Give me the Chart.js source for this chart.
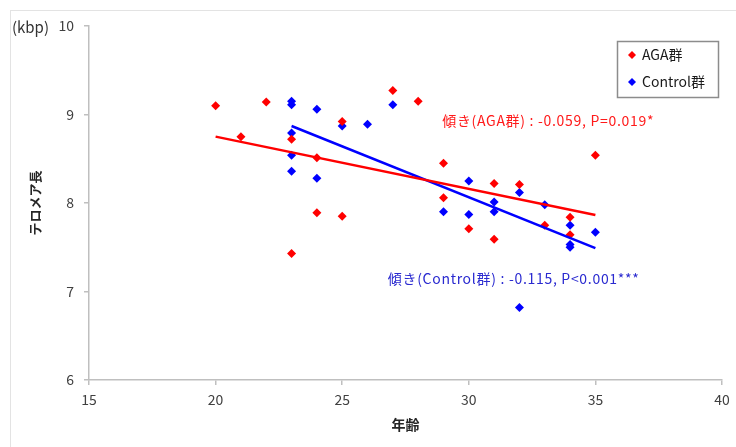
<!DOCTYPE html>
<html>
<head>
<meta charset="utf-8">
<script src="https://cdn.jsdelivr.net/npm/chart.js@4"></script>
<style>
  body { margin: 0; background: #fff; }
  #wrap { position: relative; width: 736px; height: 447px; overflow: hidden; }
  #frame { position: absolute; left: 10px; top: 10px; width: 800px; height: 500px; border: 1px solid #e3e3e3; }
  canvas { position: absolute; left: 0; top: 0; }
</style>
</head>
<body>
<div id="wrap">
  <div id="frame"></div>
  <canvas id="telomereChart" width="736" height="447"></canvas>
</div>
<script>
const agaAge = [20, 21, 22, 23, 23, 24, 24, 25, 25, 27, 28, 29, 29, 30, 31, 31, 32, 33, 34, 34, 35];
const agaTelomere = [9.10, 8.75, 9.14, 8.72, 7.43, 8.51, 7.89, 8.92, 7.85, 9.27, 9.15, 8.45, 8.06, 7.71, 8.22, 7.59, 8.21, 7.75, 7.84, 7.64, 8.54];

const controlAge = [23, 23, 23, 23, 23, 24, 24, 25, 26, 27, 29, 30, 30, 31, 31, 32, 32, 33, 34, 34, 34, 35];
const controlTelomere = [9.15, 9.11, 8.79, 8.54, 8.36, 9.06, 8.28, 8.87, 8.89, 9.11, 7.90, 8.25, 7.87, 8.01, 7.90, 8.12, 6.82, 7.98, 7.75, 7.53, 7.50, 7.67];

// trend lines (slope from the annotations)
const agaFit = { slope: -0.059, intercept: 9.93, from: 20, to: 35 };
const controlFit = { slope: -0.115, intercept: 11.515, from: 23, to: 35 };

const xTicks = [15, 20, 25, 30, 35, 40];
const yTicks = [6, 7, 8, 9, 10];

const seriesNames = ["AGA群", "Control群"];
const agaNote = "傾き(AGA群) : -0.059, P=0.019*";
const controlNote = "傾き(Control群) : -0.115, P<0.001***";

const RED = "#ff0000";
const BLUE = "#0000ff";
const FONT = "'Noto Sans CJK JP', 'Noto Sans', sans-serif";

const toPoints = (xs, ys) => xs.map((x, i) => ({ x: x, y: ys[i] }));
const fitPoints = f => [f.from, f.to].map(x => ({ x: x, y: f.intercept + f.slope * x }));

function diamond(ctx, x, y, r, color) {
  ctx.beginPath();
  ctx.moveTo(x, y - r);
  ctx.lineTo(x + r, y);
  ctx.lineTo(x, y + r);
  ctx.lineTo(x - r, y);
  ctx.closePath();
  ctx.fillStyle = color;
  ctx.fill();
}

const extras = {
  id: "extras",
  afterDraw(chart) {
    const ctx = chart.ctx;
    const xs = chart.scales.x;
    const ys = chart.scales.y;
    ctx.save();

    // unit label
    ctx.font = "15px " + FONT;
    ctx.fillStyle = "#333";
    ctx.textAlign = "left";
    ctx.textBaseline = "middle";
    ctx.fillText("(kbp)", 12, 27);

    // legend box
    ctx.strokeStyle = "#8c8c8c";
    ctx.lineWidth = 1.5;
    ctx.strokeRect(617.5, 41.5, 101, 56);
    diamond(ctx, 632, 55, 4, RED);
    diamond(ctx, 632, 82, 4, BLUE);
    ctx.fillStyle = "#1a1a1a";
    ctx.font = "14px " + FONT;
    ctx.fillText(seriesNames[0], 642, 55);
    ctx.fillText(seriesNames[1], 642, 82);

    // slope notes
    ctx.font = "14px " + FONT;
    if ("letterSpacing" in ctx) ctx.letterSpacing = "0.7px";
    ctx.fillStyle = "#ff1a1a";
    ctx.fillText(agaNote, xs.getPixelForValue(28.95), ys.getPixelForValue(8.93));
    ctx.fillStyle = "#2a2ad0";
    ctx.fillText(controlNote, xs.getPixelForValue(26.8), ys.getPixelForValue(7.14));
    ctx.restore();
  }
};

new Chart(document.getElementById("telomereChart"), {
  type: "scatter",
  data: {
    datasets: [
      {
        label: seriesNames[0],
        data: toPoints(agaAge, agaTelomere),
        pointStyle: "rectRot",
        pointRadius: 4.5,
        backgroundColor: RED,
        borderColor: RED,
        borderWidth: 0,
        order: 2
      },
      {
        label: seriesNames[1],
        data: toPoints(controlAge, controlTelomere),
        pointStyle: "rectRot",
        pointRadius: 4.5,
        backgroundColor: BLUE,
        borderColor: BLUE,
        borderWidth: 0,
        order: 2
      },
      {
        type: "line",
        label: "AGA fit",
        data: fitPoints(agaFit),
        borderColor: RED,
        borderWidth: 2.5,
        pointRadius: 0,
        order: 1
      },
      {
        type: "line",
        label: "Control fit",
        data: fitPoints(controlFit),
        borderColor: BLUE,
        borderWidth: 2.5,
        pointRadius: 0,
        order: 1
      }
    ]
  },
  options: {
    responsive: false,
    animation: false,
    layout: { padding: { left: 0, right: 14, top: 26, bottom: 0 } },
    plugins: {
      legend: { display: false },
      tooltip: { enabled: false }
    },
    scales: {
      x: {
        type: "linear",
        min: 15,
        max: 40,
        afterBuildTicks: s => { s.ticks = xTicks.map(v => ({ value: v })); },
        afterFit: s => { s.height = 67; },
        ticks: { color: "#404040", padding: 6, font: { size: 14, family: FONT } },
        grid: { drawOnChartArea: false, tickLength: 5, color: "#bfbfbf", lineWidth: 1.5 },
        border: { color: "#bfbfbf", width: 1.5 },
        title: {
          display: true,
          text: "年齢",
          color: "#262626",
          font: { size: 14, weight: "bold", family: FONT },
          padding: { top: 4, bottom: 14 }
        }
      },
      y: {
        min: 6,
        max: 10,
        afterBuildTicks: s => { s.ticks = yTicks.map(v => ({ value: v })); },
        afterFit: s => { s.width = 89; },
        ticks: { color: "#404040", padding: 10, font: { size: 14, family: FONT } },
        grid: { drawOnChartArea: false, tickLength: 5, color: "#bfbfbf", lineWidth: 1.5 },
        border: { color: "#bfbfbf", width: 1.5 },
        title: {
          display: true,
          text: "テロメア長",
          color: "#262626",
          font: { size: 13, weight: "bold", family: FONT },
          padding: { top: 27, bottom: 0 }
        }
      }
    }
  },
  plugins: [extras]
});
</script>
</body>
</html>
